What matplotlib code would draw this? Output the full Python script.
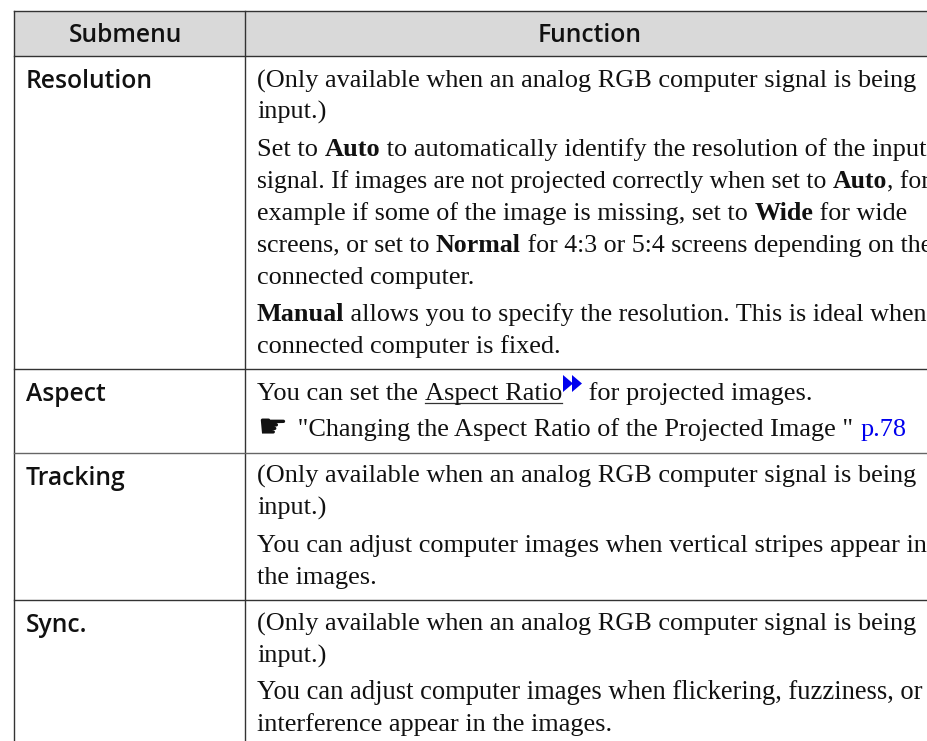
import matplotlib
matplotlib.use("Agg")
import matplotlib.pyplot as plt

headers = ["Submenu", "Function"]
submenus = ["Resolution", "Aspect", "Tracking", "Sync."]
row_tops = [56, 369, 453, 600]
row_cols = ["#333333", "#333333", "#666666", "#333333"]
submenu_baselines = [88, 401, 485, 632]

only_rgb = "(Only available when an analog RGB computer signal is being"

# every line is a list of (text, style) runs, next to its baseline
body_lines = [
    (87.5, [(only_rgb, "n")]),
    (119, [("input.)", "n")]),
    (156, [("Set to ", "n"), ("Auto", "b"), (" to automatically identify the resolution of the input", "n")]),
    (188, [("signal. If images are not projected correctly when set to ", "n"), ("Auto", "b"), (", for", "n")]),
    (220, [("example if some of the image is missing, set to ", "n"), ("Wide", "b"), (" for wide", "n")]),
    (252, [("screens, or set to ", "n"), ("Normal", "b"), (" for 4:3 or 5:4 screens depending on the", "n")]),
    (284, [("connected computer.", "n")]),
    (321, [("Manual", "b"), (" allows you to specify the resolution. This is ideal when", "n")]),
    (353, [("connected computer is fixed.", "n")]),
    (400, [("You can set the ", "n"), ("Aspect Ratio", "u"), ("arrow", "a"), (" for projected images.", "n")]),
    (436, [("☛", "h"), (" \"Changing the Aspect Ratio of the Projected Image \" ", "n"), ("p.78", "l")]),
    (483, [(only_rgb, "n")]),
    (515, [("input.)", "n")]),
    (552, [("You can adjust computer images when vertical stripes appear in", "n")]),
    (584, [("the images.", "n")]),
    (631, [(only_rgb, "n")]),
    (663, [("input.)", "n")]),
    (699, [("You can adjust computer images when flickering, fuzziness, or", "n")]),
    (731, [("interference appear in the images.", "n")]),
]

# the original font sets some lines tighter than others
line_fit = {2: 1.003, 3: 0.975, 4: 0.992, 5: 0.983, 7: 0.993, 9: 1.005, 10: 0.997, 17: 1.009}

serif = "Liberation Serif"
body_size = 18.92
head_size = 17.7
line_col = "#333333"

fig = plt.figure(figsize=(9.28, 7.41), dpi=100)
ax = fig.add_axes([0, 0, 1, 1])
ax.set_xlim(0, 928)
ax.set_ylim(741, 0)
ax.axis("off")

# table
ax.fill_between([14.5, 940], 10.5, 56, color="#d9d9d9", lw=0)
ax.plot([14.5, 14.5], [10.5, 760], color=line_col, lw=1)
ax.plot([245.5, 245.5], [10.5, 760], color=line_col, lw=1)
ax.plot([14.5, 940], [10.5, 10.5], color=line_col, lw=1)
for y, c in zip(row_tops, row_cols):
    ax.plot([14.5, 940], [y, y], color=c, lw=1)

ax.text(126, 41.5, headers[0], family="Open Sans", weight="semibold", fontsize=head_size, ha="center", va="baseline", color="#111111")
ax.text(590, 41.5, headers[1], family="Open Sans", weight="semibold", fontsize=head_size, ha="center", va="baseline", color="#111111")
for name, y in zip(submenus, submenu_baselines):
    ax.text(26, y, name, family="Open Sans", weight="semibold", fontsize=head_size, va="baseline", color="#111111")

renderer = fig.canvas.get_renderer()


def run_width(text, **kw):
    # measure with a bar on the end, otherwise trailing spaces get lost
    a = ax.text(0, 0, text + "|", **kw)
    b = ax.text(0, 0, "|", **kw)
    w = a.get_window_extent(renderer).width - b.get_window_extent(renderer).width
    a.remove()
    b.remove()
    return w


for i, (y, runs) in enumerate(body_lines):
    x = 257
    for text, style in runs:
        if style == "a":
            # small blue double arrow after the glossary term
            ax.fill([x + 1, x + 1, x + 11], [375, 392, 383.5], color="#0000ee", lw=0)
            ax.fill([x + 10, x + 10, x + 20], [375, 392, 383.5], color="#0000ee", lw=0)
            x += 20
            continue
        kw = {"family": serif, "fontsize": body_size * line_fit.get(i, 1), "color": "#111111"}
        if style == "b":
            kw["weight"] = "bold"
        if style == "l":
            kw["color"] = "#0000ee"
        if style == "h":
            kw["family"] = "DejaVu Sans"
            kw["fontsize"] = 24
            ax.text(x, y + 1, text, va="baseline", **kw)
            x += 34.4
            continue
        w = run_width(text, **kw)
        ax.text(x, y, text, va="baseline", clip_on=False, **kw)
        if style == "u":
            ax.plot([x, x + w], [y + 3, y + 3], color="#333333", lw=0.9)
        x += w

fig.savefig("out.png", dpi=100)
